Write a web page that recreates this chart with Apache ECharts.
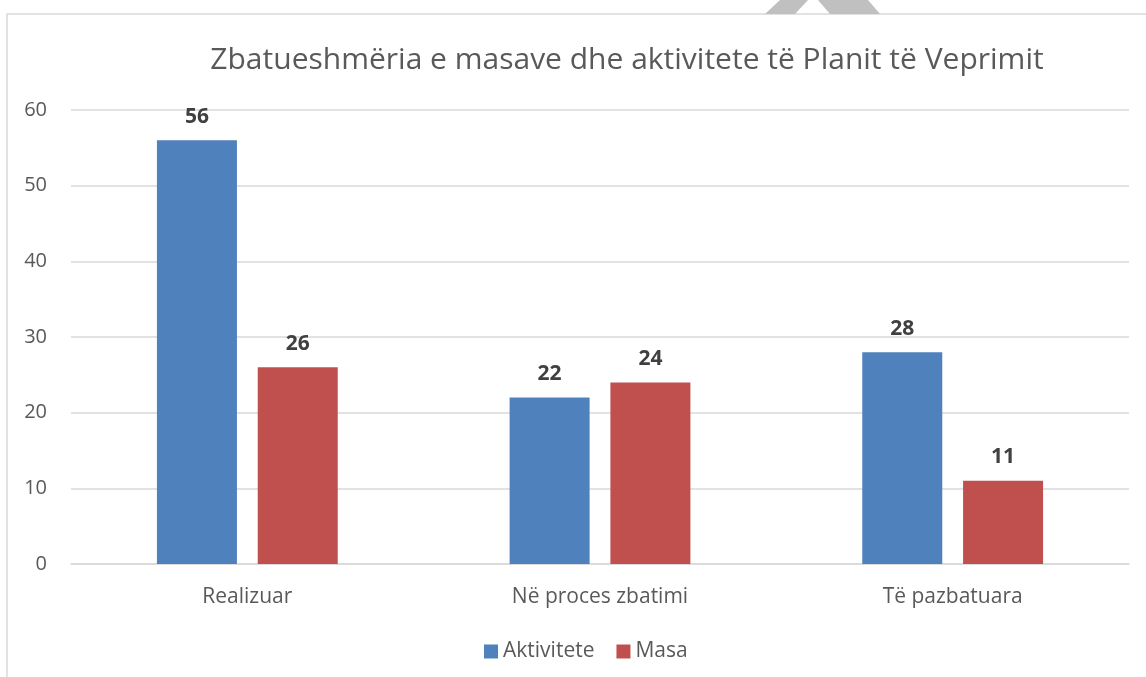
<!DOCTYPE html>
<html>
<head>
<meta charset="utf-8">
<script src="https://cdn.jsdelivr.net/npm/echarts@6/dist/echarts.min.js"></script>
<style>html,body{margin:0;padding:0;background:#fff;}#c{width:1146px;height:677px;}</style>
</head>
<body>
<div id="c"></div>
<script>
var categories = ['Realizuar', 'Në proces zbatimi', 'Të pazbatuara'];
var aktivitete = [56, 22, 28];
var masa = [26, 24, 11];
var yTicks = { min: 0, max: 60, interval: 10 };
var titleText = 'Zbatueshmëria e masave dhe aktivitete të Planit të Veprimit';

var chart = echarts.init(document.getElementById('c'), null, { renderer: 'canvas' });
var FONT = '"Open Sans", sans-serif';
chart.setOption({
  backgroundColor: '#fff',
  animation: false,
  graphic: [
    { type: 'rect', shape: { x: 7, y: 14, width: 1160, height: 700 }, style: { fill: 'none', stroke: '#d9d9d9', lineWidth: 1.5 }, z: -1 },
    { type: 'polygon', shape: { points: [[780, 0], [808, 0], [795, 14], [765, 14]] }, style: { fill: '#c0c0c0' }, z: 0 },
    { type: 'polygon', shape: { points: [[818, 0], [868, 0], [880, 14], [830, 14]] }, style: { fill: '#c0c0c0' }, z: 0 }
  ],
  title: {
    text: titleText,
    left: 622, top: 40, textAlign: 'center',
    textStyle: { fontFamily: FONT, fontSize: 30, fontWeight: 'normal', color: '#595959' }
  },
  legend: {
    data: ['Aktivitete', 'Masa'],
    left: 479, top: 636,
    itemWidth: 14, itemHeight: 14, itemGap: 22,
    icon: 'rect',
    textStyle: { fontFamily: FONT, fontSize: 21, color: '#595959' }
  },
  grid: { left: 71, right: 17, top: 110, bottom: 113, containLabel: false },
  xAxis: {
    type: 'category', data: categories,
    axisLine: { lineStyle: { color: '#d9d9d9', width: 1.5 } },
    axisTick: { show: false },
    axisLabel: { margin: 23, fontFamily: FONT, fontSize: 21, color: '#595959' }
  },
  yAxis: {
    type: 'value', min: yTicks.min, max: yTicks.max, interval: yTicks.interval,
    axisLine: { show: false }, axisTick: { show: false },
    splitLine: { lineStyle: { color: '#d9d9d9', width: 1.5 } },
    axisLabel: { margin: 24, fontFamily: FONT, fontSize: 20, color: '#595959' }
  },
  series: [
    { name: 'Aktivitete', type: 'bar', data: aktivitete, barWidth: 80, barGap: '26%',
      itemStyle: { color: '#4f81bd' },
      label: { show: true, position: 'top', distance: 13, fontFamily: FONT, fontSize: 21, fontWeight: 'bold', color: '#404040' } },
    { name: 'Masa', type: 'bar', data: masa, barWidth: 80, barGap: '26%',
      itemStyle: { color: '#c0504d' },
      label: { show: true, position: 'top', distance: 13, fontFamily: FONT, fontSize: 21, fontWeight: 'bold', color: '#404040' } }
  ]
});
</script>
</body>
</html>
